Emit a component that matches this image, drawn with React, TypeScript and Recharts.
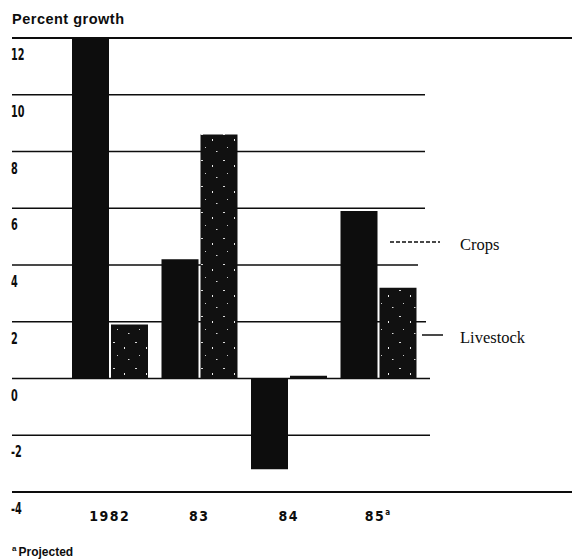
import React from 'react';
import { BarChart, Bar, XAxis, YAxis, CartesianGrid } from 'recharts';

// ---- data ----
const categories = ['1982', '83', '84', '85'];
const footnoteMarks = ['', '', '', 'a'];
const cropsGrowth = [12.0, 4.2, -3.2, 5.9];
const livestockGrowth = [1.9, 8.6, 0.1, 3.2];
const yTicks = [-4, -2, 0, 2, 4, 6, 8, 10, 12];
const seriesLabels = ['Crops', 'Livestock'];

const data = categories.map((year, i) => ({
  year,
  mark: footnoteMarks[i],
  crops: cropsGrowth[i],
  livestock: livestockGrowth[i],
}));

// ---- layout constants ----
const W = 572;
const H = 559;
const MARGIN = { top: 38, right: 149, bottom: 37, left: 64 };
const X_AXIS_H = 30;
const PLOT_TOP = MARGIN.top;
const PLOT_BOTTOM = H - MARGIN.bottom - X_AXIS_H;
const Y_MIN = -4;
const Y_MAX = 12;

const INK = '#0d0d0d';
const NARROW = "'Liberation Sans Narrow', 'DejaVu Sans Condensed', 'Liberation Sans', sans-serif";
const SANS = "'Liberation Sans', Arial, sans-serif";
const SERIF = "'Liberation Serif', 'Times New Roman', serif";

// horizontal extents (pixels) of each gridline, keyed by value
const gridExtents: Record<string, number[]> = {
  '12': [12, 572],
  '10': [12, 425],
  '8': [12, 425],
  '6': [12, 425],
  '4': [12, 418],
  '2': [12, 426],
  '0': [12, 430],
  '-2': [12, 430],
  '-4': [12, 572],
};

const GridLine = (p: any) => {
  const v = Math.round(Y_MAX - ((p.y1 - PLOT_TOP) / (PLOT_BOTTOM - PLOT_TOP)) * (Y_MAX - Y_MIN));
  const ext = gridExtents[String(v)] || [12, 425];
  const thick = v === 12 || v === -4 ? 1.8 : 1.5;
  return (
    <g key={p.key}>
      <line x1={ext[0]} x2={ext[1]} y1={p.y1} y2={p.y2} stroke={INK} strokeWidth={thick} />
      <text
        transform={`translate(11 ${p.y1 + 22}) scale(0.72 1)`}
        x={0}
        y={0}
        fontFamily={NARROW}
        fontWeight="bold"
        fontSize={15}
        fill={INK}
        textAnchor="start"
      >
        {v < 0 ? `-${Math.abs(v)}` : String(v)}
      </text>
    </g>
  );
};

const NoTick = () => <g />;

const XTick = (p: any) => {
  const idx = p.index;
  const mark = footnoteMarks[idx] || '';
  return (
    <text x={p.x} y={PLOT_BOTTOM + 29} fontFamily={NARROW} fontWeight="bold" fontSize={14} letterSpacing={1.5} fill={INK} textAnchor="middle">
      {p.payload.value}
      {mark ? <tspan dy={-6} fontSize={8}>{mark}</tspan> : null}
    </text>
  );
};

export default function App() {
  return (
    <div style={{ position: 'absolute', left: 0, top: 0, width: W, height: H, background: '#fff' }}>
      <BarChart width={W} height={H} data={data} margin={MARGIN} barGap={2} barCategoryGap={0}>
        <defs>
          <pattern id="speckle" width="22" height="26" patternUnits="userSpaceOnUse">
            <rect width="22" height="26" fill="#111" />
            <rect x="3" y="4" width="2" height="1" fill="#ddd" />
            <rect x="14" y="9" width="1" height="2" fill="#eee" />
            <rect x="7" y="17" width="1" height="1" fill="#ccc" />
            <rect x="18" y="21" width="1.5" height="1" fill="#ddd" />
          </pattern>
        </defs>
        <CartesianGrid vertical={false} horizontal={GridLine} />
        <XAxis dataKey="year" axisLine={false} tickLine={false} height={X_AXIS_H} tick={XTick} interval={0} />
        <YAxis
          width={1}
          domain={[Y_MIN, Y_MAX]}
          ticks={yTicks}
          interval={0}
          axisLine={false}
          tickLine={false}
          tick={NoTick}
          allowDataOverflow
        />
        <Bar dataKey="crops" name={seriesLabels[0]} fill={INK} barSize={37} isAnimationActive={false} />
        <Bar dataKey="livestock" name={seriesLabels[1]} fill="url(#speckle)" barSize={37} isAnimationActive={false} />
        <g>
          <text x={12} y={24} fontFamily={SANS} fontWeight="bold" fontSize={14.5} letterSpacing={0.5} fill={INK}>
            Percent growth
          </text>
          <line x1={390} x2={440} y1={242} y2={242} stroke={INK} strokeWidth={1.3} strokeDasharray="4 2" />
          <text x={460} y={250} fontFamily={SERIF} fontSize={16.5} fill={INK}>
            {seriesLabels[0]}
          </text>
          <line x1={422} x2={443} y1={335} y2={335} stroke={INK} strokeWidth={1.5} />
          <text x={460} y={343} fontFamily={SERIF} fontSize={16.5} fill={INK}>
            {seriesLabels[1]}
          </text>
          <text x={12} y={556} fontFamily={SANS} fontWeight="bold" fontSize={12} fill={INK}>
            <tspan fontSize={8} dy={-5}>a</tspan>
            <tspan dy={5} dx={2}>Projected</tspan>
          </text>
        </g>
      </BarChart>
    </div>
  );
}
